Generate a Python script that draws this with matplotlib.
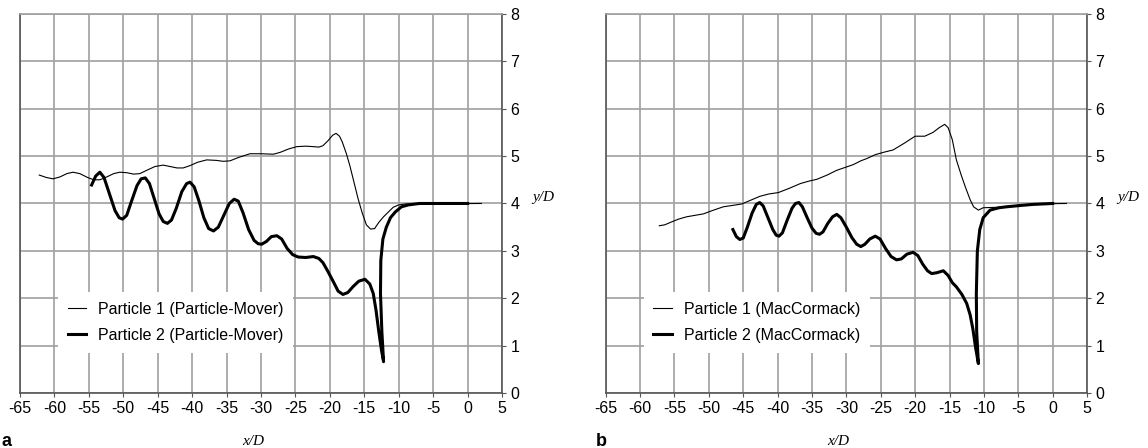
import matplotlib.pyplot as plt

# ---------------- DATA ----------------
# panel a : Particle-Mover
a_p1_x = [-62.2, -61.2, -60.2, -59.2, -58.2, -57.3, -56.3, -55.2, -54.3, -53.4, -52.4, -51.4,
          -50.5, -49.5, -48.5, -47.6, -46.6, -45.4, -44.2, -43.2, -42.2, -41.3, -40.3, -39.2,
          -37.9, -36.5, -35.5, -34.5, -33.3, -31.6, -30.0, -28.2, -27.2, -26.0, -24.8, -23.5,
          -22.4, -21.6, -21.0, -20.3, -19.6, -19.1, -18.6, -18.2, -17.6, -17.1, -16.5, -15.9,
          -15.3, -14.7, -14.1, -13.5, -12.9, -12.2, -11.5, -10.8, -10.0, -9.0, 2.0]
a_p1_y = [4.60, 4.55, 4.52, 4.56, 4.63, 4.66, 4.63, 4.55, 4.50, 4.50, 4.56, 4.63,
          4.66, 4.65, 4.62, 4.63, 4.70, 4.78, 4.81, 4.78, 4.75, 4.75, 4.80, 4.87,
          4.92, 4.91, 4.89, 4.90, 4.97, 5.05, 5.05, 5.04, 5.08, 5.15, 5.20, 5.21,
          5.20, 5.19, 5.22, 5.32, 5.44, 5.48, 5.42, 5.30, 5.05, 4.80, 4.45, 4.10,
          3.80, 3.55, 3.46, 3.47, 3.60, 3.72, 3.82, 3.92, 3.97, 3.99, 4.00]

a_p2_x = [-54.6, -54.0, -53.4, -52.8, -52.0, -51.2, -50.6, -50.1, -49.5, -48.8, -48.0, -47.4,
          -46.8, -46.2, -45.5, -44.8, -44.2, -43.6, -43.0, -42.3, -41.5, -40.8, -40.3, -39.7,
          -39.0, -38.3, -37.6, -36.9, -36.2, -35.4, -34.6, -33.9, -33.3, -32.6, -31.8, -31.0,
          -30.4, -29.9, -29.2, -28.5, -27.7, -27.0, -26.2, -25.4, -24.6, -23.5, -22.4, -21.6,
          -21.0, -20.3, -19.5, -18.8, -18.1, -17.4, -16.6, -15.8, -14.9, -14.2, -13.7, -13.3,
          -12.9, -12.5, -12.2, -12.45, -12.65, -12.6, -12.3, -11.8, -11.2, -10.5, -9.6, -8.6,
          -7.0, 0.0]
a_p2_y = [4.39, 4.58, 4.66, 4.55, 4.20, 3.85, 3.70, 3.67, 3.75, 4.05, 4.38, 4.52,
          4.54, 4.42, 4.10, 3.78, 3.62, 3.58, 3.65, 3.90, 4.25, 4.42, 4.45, 4.35,
          4.05, 3.70, 3.47, 3.42, 3.50, 3.75, 4.00, 4.09, 4.05, 3.80, 3.45, 3.22,
          3.15, 3.14, 3.20, 3.30, 3.32, 3.25, 3.05, 2.92, 2.87, 2.86, 2.88, 2.84,
          2.75, 2.57, 2.35, 2.15, 2.08, 2.12, 2.25, 2.36, 2.40, 2.30, 2.10, 1.75,
          1.30, 0.90, 0.66, 1.30, 2.10, 2.80, 3.25, 3.50, 3.70, 3.82, 3.93, 3.97,
          4.00, 4.00]

# panel b : MacCormack
b_p1_x = [-57.2, -56.4, -55.6, -54.4, -53.2, -52.0, -50.8, -49.5, -47.9, -46.5, -45.2, -43.9,
          -42.6, -41.3, -39.9, -38.3, -36.7, -35.5, -34.3, -32.8, -31.4, -30.2, -29.0, -27.9,
          -27.0, -25.8, -24.6, -23.2, -21.6, -20.0, -18.6, -17.4, -16.5, -15.7, -15.2, -14.6,
          -14.0, -13.3, -12.7, -12.0, -11.5, -10.8, -10.1, -8.0, -5.0, -3.0, 2.0]
b_p1_y = [3.53, 3.55, 3.60, 3.67, 3.72, 3.75, 3.78, 3.85, 3.93, 3.96, 3.99, 4.07,
          4.15, 4.20, 4.23, 4.32, 4.42, 4.47, 4.51, 4.60, 4.70, 4.76, 4.82, 4.90,
          4.95, 5.03, 5.08, 5.13, 5.27, 5.42, 5.42, 5.50, 5.60, 5.67, 5.60, 5.35,
          4.92, 4.60, 4.35, 4.08, 3.93, 3.86, 3.91, 3.92, 3.96, 3.99, 4.00]

b_p2_x = [-46.5, -46.0, -45.5, -45.0, -44.4, -43.7, -43.1, -42.6, -42.1, -41.4, -40.7, -40.2,
          -39.8, -39.3, -38.6, -37.9, -37.4, -36.9, -36.4, -35.7, -35.0, -34.4, -33.9, -33.4,
          -32.7, -32.0, -31.4, -30.8, -30.0, -29.2, -28.5, -27.9, -27.3, -26.6, -25.8, -25.1,
          -24.3, -23.5, -22.7, -22.0, -21.2, -20.3, -19.6, -18.9, -18.2, -17.6, -16.8, -15.9,
          -15.2, -14.6, -14.0, -13.2, -12.5, -12.0, -11.6, -11.2, -10.8, -11.05, -11.1, -10.95,
          -10.6, -10.1, -9.1, -7.8, -6.7, -4.5, -2.9, 0.0]
b_p2_y = [3.45, 3.30, 3.24, 3.27, 3.50, 3.80, 3.98, 4.02, 3.95, 3.70, 3.45, 3.33,
          3.31, 3.38, 3.65, 3.90, 4.00, 4.02, 3.93, 3.70, 3.48, 3.37, 3.35, 3.40,
          3.58, 3.72, 3.77, 3.70, 3.50, 3.28, 3.14, 3.09, 3.14, 3.25, 3.31, 3.25,
          3.05, 2.88, 2.81, 2.83, 2.93, 2.97, 2.90, 2.72, 2.58, 2.52, 2.54, 2.58,
          2.48, 2.33, 2.24, 2.08, 1.89, 1.65, 1.35, 0.95, 0.62, 1.30, 2.10, 3.00,
          3.45, 3.70, 3.86, 3.91, 3.93, 3.96, 3.98, 4.00]

x_ticks = list(range(-65, 6, 5))
y_ticks = list(range(0, 9))

# ---------------- PLOT ----------------
plt.rcParams['font.family'] = ['Liberation Sans', 'DejaVu Sans']
plt.rcParams['axes.unicode_minus'] = False

fig = plt.figure(figsize=(11.48, 4.48), dpi=100)
ax_a = fig.add_axes([0.0174, 0.1228, 0.4199, 0.846])
ax_b = fig.add_axes([0.5276, 0.1228, 0.4193, 0.846])

panels = [
    (ax_a, a_p1_x, a_p1_y, a_p2_x, a_p2_y, "Particle-Mover", "a", -0.039),
    (ax_b, b_p1_x, b_p1_y, b_p2_x, b_p2_y, "MacCormack", "b", -0.02),
]

for ax, x1, y1, x2, y2, name, tag, tag_x in panels:
    ax.plot(x1, y1, color="black", lw=0.8, label=f"Particle 1 ({name})", zorder=3)
    ax.plot(x2, y2, color="black", lw=2.2, label=f"Particle 2 ({name})", zorder=3)

    ax.set_xlim(-65, 5)
    ax.set_ylim(0, 8)
    ax.set_xticks(x_ticks)
    ax.set_yticks(y_ticks)
    ax.yaxis.tick_right()
    ax.tick_params(axis="both", labelsize=11.5, length=3, width=0.8, color="#555555", pad=3)
    ax.grid(True, color="#a0a0a0", lw=1.2)
    ax.set_axisbelow(True)
    for s in ax.spines.values():
        s.set_color("#555555")
        s.set_linewidth(1.2)
    ax.spines["top"].set_color("#a0a0a0")

    leg = ax.legend(loc="upper left", bbox_to_anchor=(0.079, 0.266), borderaxespad=0,
                    fontsize=11.5, frameon=True, fancybox=False, framealpha=1,
                    edgecolor="none", handlelength=1.15, handletextpad=0.75,
                    labelspacing=0.7, borderpad=0.6)
    leg.get_frame().set_facecolor("white")

    ax.text(0.483, -0.127, "x/D", transform=ax.transAxes, ha="center", va="center",
            fontsize=11, family="Liberation Serif", style="italic")
    ax.text(1.085, 0.516, "y/D", transform=ax.transAxes, ha="center", va="center",
            fontsize=11, family="Liberation Serif", style="italic")
    ax.text(tag_x, -0.127, tag, transform=ax.transAxes, ha="left", va="center",
            fontsize=13, fontweight="bold")

plt.savefig("out.png", dpi=100)
